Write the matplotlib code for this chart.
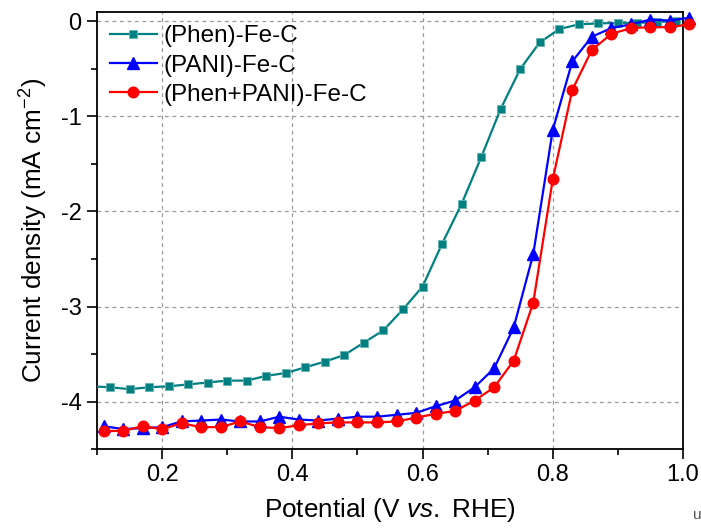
import numpy as np
import matplotlib
matplotlib.use("Agg")
import matplotlib.pyplot as plt
from matplotlib.ticker import MultipleLocator, FormatStrFormatter
from matplotlib.transforms import Bbox, TransformedBbox

plt.rcParams['font.family'] = ['Liberation Sans', 'DejaVu Sans']
plt.rcParams['mathtext.fontset'] = 'custom'
plt.rcParams['mathtext.rm'] = 'Liberation Sans'
plt.rcParams['mathtext.it'] = 'Liberation Sans:italic'
plt.rcParams['axes.unicode_minus'] = False

# (Phen)-Fe-C
phen_x = [0.09, 0.12, 0.15, 0.18, 0.21, 0.24, 0.27, 0.30, 0.33, 0.36, 0.39,
          0.42, 0.45, 0.48, 0.51, 0.54, 0.57, 0.60, 0.63, 0.66, 0.69, 0.72,
          0.75, 0.78, 0.81, 0.84, 0.87, 0.90, 0.93, 0.96, 0.99]
phen_y = [-3.84, -3.85, -3.87, -3.85, -3.84, -3.82, -3.80, -3.78, -3.78, -3.73, -3.70,
          -3.64, -3.58, -3.51, -3.38, -3.25, -3.03, -2.79, -2.34, -1.92, -1.43, -0.92,
          -0.50, -0.22, -0.08, -0.03, -0.02, -0.015, -0.015, -0.005, 0.003]

# (PANI)-Fe-C and (Phen+PANI)-Fe-C share the same potentials
pot = [0.11, 0.14, 0.17, 0.20, 0.23, 0.26, 0.29, 0.32, 0.35, 0.38, 0.41,
       0.44, 0.47, 0.50, 0.53, 0.56, 0.59, 0.62, 0.65, 0.68, 0.71, 0.74,
       0.77, 0.80, 0.83, 0.86, 0.89, 0.92, 0.95, 0.98, 1.01]
pani_y = [-4.26, -4.29, -4.28, -4.27, -4.21, -4.20, -4.19, -4.21, -4.21, -4.16, -4.19,
          -4.20, -4.18, -4.16, -4.16, -4.14, -4.12, -4.05, -3.99, -3.85, -3.65, -3.22,
          -2.45, -1.14, -0.42, -0.16, -0.07, -0.03, 0.02, 0.01, 0.04]
both_y = [-4.31, -4.31, -4.26, -4.29, -4.23, -4.27, -4.27, -4.21, -4.27, -4.28, -4.25,
          -4.23, -4.22, -4.22, -4.22, -4.21, -4.17, -4.13, -4.10, -3.99, -3.85, -3.57,
          -2.96, -1.66, -0.72, -0.30, -0.13, -0.07, -0.06, -0.06, -0.03]

fig = plt.figure(figsize=(7.01, 5.28), dpi=100)
ax = fig.add_axes([0.1384, 0.1496, 0.8359, 0.8277])

lines = []
lines += ax.plot(phen_x, phen_y, '-s', color='#008080', mec='#66b3b3', mew=0.6,
                 ms=6.3, lw=1.6, label='(Phen)-Fe-C', zorder=3)
lines += ax.plot(pot, pani_y, '-^', color='#0000ff', ms=8.5, lw=1.6,
                 label='(PANI)-Fe-C', zorder=4)
lines += ax.plot(pot, both_y, '-o', color='#ff0000', ms=7.6, lw=1.6,
                 label='(Phen+PANI)-Fe-C', zorder=5)

# let the last markers spill past the right spine like the original
clip = TransformedBbox(Bbox([[0, 0], [1.06, 1]]), ax.transAxes)
for ln in lines:
    ln.set_clip_box(clip)

ax.set_xlim(0.1, 1.0)
ax.set_ylim(-4.5, 0.1)
ax.xaxis.set_major_locator(MultipleLocator(0.2))
ax.xaxis.set_minor_locator(MultipleLocator(0.1))
ax.yaxis.set_major_locator(MultipleLocator(1))
ax.yaxis.set_minor_locator(MultipleLocator(0.5))
ax.xaxis.set_major_formatter(FormatStrFormatter('%.1f'))
ax.yaxis.set_major_formatter(FormatStrFormatter('%d'))

ax.tick_params(which='major', direction='out', length=7, width=1.2, labelsize=17, pad=4)
ax.tick_params(which='minor', direction='out', length=4, width=1.2)
for s in ax.spines.values():
    s.set_linewidth(1.3)

ax.grid(True, which='major', color='#999999', ls=(0, (3, 3)), lw=0.9)
ax.set_axisbelow(True)

ax.set_xlabel(r'Potential (V $\mathit{vs.}$ RHE)', fontsize=18.8, labelpad=7)
ax.set_ylabel(r'Current density (mA cm$^{-2}$)', fontsize=18.8, labelpad=8)

ax.legend(loc='upper left', fontsize=17.5, frameon=False, handlelength=1.9,
          handletextpad=0.3, labelspacing=0.3, borderaxespad=0.15,
          bbox_to_anchor=(0.0, 1.0))

fig.text(0.988, 0.012, 'u', fontsize=11, color='#555555', ha='left', va='bottom')

fig.savefig('out.png', dpi=100)
